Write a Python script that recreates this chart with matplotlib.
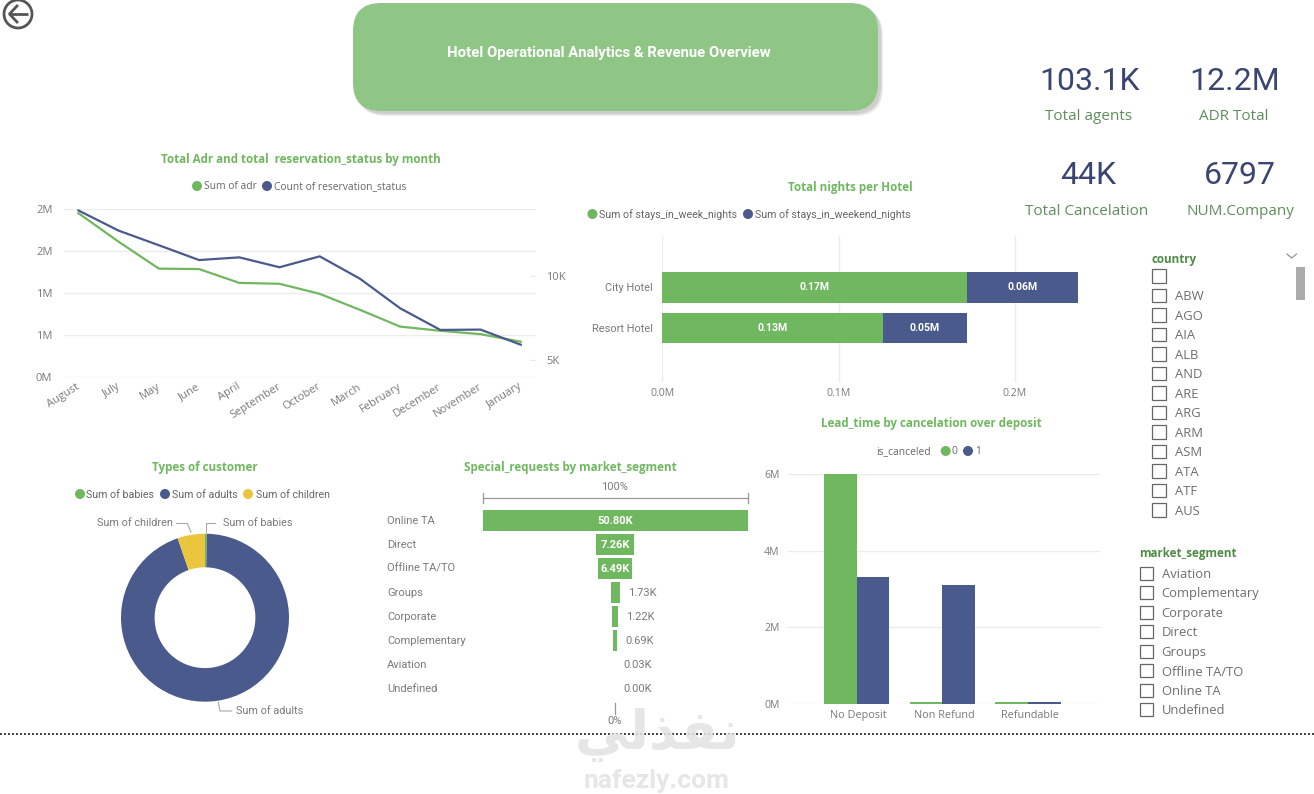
import numpy as np
import matplotlib
matplotlib.use('Agg')
import matplotlib.pyplot as plt
from matplotlib.patches import FancyBboxPatch, Rectangle, Circle

# =============================================================================
# Data
# =============================================================================
MONTHS = ['August', 'July', 'May', 'June', 'April', 'September', 'October',
          'March', 'February', 'December', 'November', 'January']
SUM_ADR = [1.95, 1.61, 1.29, 1.285, 1.12, 1.11, 0.99, 0.80, 0.60, 0.55, 0.51, 0.42]
COUNT_STATUS = [13.9, 12.7, 11.83, 10.95, 11.11, 10.52, 11.17, 9.84, 8.08, 6.79, 6.81, 5.91]

HOTELS = ['City Hotel', 'Resort Hotel']
WEEK_NIGHTS = [0.173, 0.1252]
WEEKEND_NIGHTS = [0.0628, 0.0474]
WEEK_LABELS = ['0.17M', '0.13M']
WEEKEND_LABELS = ['0.06M', '0.05M']

CUSTOMER_NAMES = ['Sum of babies', 'Sum of adults', 'Sum of children']
CUSTOMER_VALUES = [0.9, 221.6, 12.4]

SEGMENTS = ['Online TA', 'Direct', 'Offline TA/TO', 'Groups', 'Corporate',
            'Complementary', 'Aviation', 'Undefined']
SEGMENT_REQUESTS = [50.80, 7.26, 6.49, 1.73, 1.22, 0.69, 0.03, 0.00]

DEPOSITS = ['No Deposit', 'Non Refund', 'Refundable']
LEAD_NOT_CANCELED = [6.0, 0.04, 0.04]
LEAD_CANCELED = [3.32, 3.11, 0.04]

KPI_VALUES = ['103.1K', '12.2M', '44K', '6797']
KPI_NAMES = ['Total agents', 'ADR Total', 'Total Cancelation', 'NUM.Company']

COUNTRIES = ['', 'ABW', 'AGO', 'AIA', 'ALB', 'AND', 'ARE', 'ARG', 'ARM', 'ASM', 'ATA', 'ATF', 'AUS']
MARKET_SLICER = ['Aviation', 'Complementary', 'Corporate', 'Direct', 'Groups',
                 'Offline TA/TO', 'Online TA', 'Undefined']

# =============================================================================
# Style
# =============================================================================
W, H = 1314, 794
GREEN = '#70B85F'
BLUE = '#4A5A8C'
YELLOW = '#EBC53D'
GRID = '#ECECEC'
GREY = '#7A7A7A'
SEGOE = 'Open Sans'
DIN = 'Roboto'

fig = plt.figure(figsize=(W / 100, H / 100), dpi=100, facecolor='white')


def px_axes(left, top, right, bottom):
    """Axes placed with image pixel coordinates."""
    ax = fig.add_axes([left / W, 1 - bottom / H, (right - left) / W, (bottom - top) / H])
    ax.patch.set_alpha(0)
    for s in ax.spines.values():
        s.set_visible(False)
    return ax


# overlay for all the dashboard furniture: titles, legends, cards, slicers
ov = fig.add_axes([0, 0, 1, 1], zorder=5)
ov.set_xlim(0, W)
ov.set_ylim(H, 0)
ov.axis('off')
ov.patch.set_alpha(0)


def title(text, cx, cy, size=8.4):
    ov.text(cx, cy, text, color=GREEN, fontsize=size, fontweight='bold', family=SEGOE,
            ha='center', va='center')


def legend_item(cx, tx, y, label, color, family=SEGOE, size=7.4):
    ov.add_patch(Circle((cx, y), 5, color=color, lw=0))
    ov.text(tx, y + 0.5, label, color='#666666', fontsize=size, family=family, ha='left', va='center')


# =============================================================================
# Header
# =============================================================================
# soft shadow, a few faint layers under the button
for off, shade in [(5, '#EDEDED'), (4, '#E0E0E0'), (3, '#CFCFCF')]:
    ov.add_patch(FancyBboxPatch((353 + off, 3 + off), 525, 108,
                                boxstyle='round,pad=0,rounding_size=28', fc=shade, ec='none'))
ov.add_patch(FancyBboxPatch((353, 3), 525, 108, boxstyle='round,pad=0,rounding_size=28',
                            fc='#90C685', ec='none'))
ov.text(608.5, 53.5, 'Hotel Operational Analytics & Revenue Overview', color='white',
        fontsize=10.7, fontweight='bold', family=DIN, ha='center', va='center')

# back button
ov.add_patch(Circle((18, 14), 14, fc='white', ec='#555555', lw=2))
ov.plot([28, 10], [14, 14], color='#555555', lw=2, solid_capstyle='butt')
ov.plot([17, 9.5, 17], [6, 14, 22], color='#555555', lw=2)

# =============================================================================
# Line chart
# =============================================================================
title('Total Adr and total  reservation_status by month', 300.5, 159)
legend_item(197, 203.5, 186, 'Sum of adr', GREEN)
legend_item(267, 273.5, 186, 'Count of reservation_status', BLUE)

ax = px_axes(63.6, 209, 536, 377)
x = np.arange(len(MONTHS))
ax.plot(x, SUM_ADR, color=GREEN, lw=1.6)
ax.set_xlim(-0.37, 11.38)
ax.set_ylim(0, 2)
ax.set_yticks([0, 0.5, 1, 1.5, 2])
ax.set_yticklabels(['0M', '1M', '1M', '2M', '2M'])
ax.grid(axis='y', color=GRID, lw=1)
ax.set_axisbelow(True)
ax.tick_params(axis='y', length=0, pad=8, labelsize=8, labelcolor=GREY)
ax.set_xticks(x - 0.06)
ax.set_xticklabels(MONTHS, rotation=32, ha='right', va='top', rotation_mode='anchor',
                   fontsize=8, color=GREY, family=SEGOE)
ax.tick_params(axis='x', length=0, pad=3)
for t in ax.get_yticklabels():
    t.set_family(SEGOE)

ax2 = ax.twinx()
ax2.patch.set_alpha(0)
for s in ax2.spines.values():
    s.set_visible(False)
ax2.plot(x, COUNT_STATUS, color=BLUE, lw=1.6)
ax2.set_ylim(3.988, 13.988)
ax2.set_yticks([5, 10])
ax2.set_yticklabels(['5K', '10K'], family=SEGOE)
ax2.tick_params(axis='y', direction='in', length=4.5, color=GRID, pad=7.5, labelsize=8, labelcolor=GREY)

# =============================================================================
# Stacked bars
# =============================================================================
title('Total nights per Hotel', 850.7, 187)
legend_item(592.4, 599, 214, 'Sum of stays_in_week_nights', GREEN, DIN, 7.7)
legend_item(748, 755, 214, 'Sum of stays_in_weekend_nights', BLUE, DIN, 7.7)

ax = px_axes(662.4, 236, 1100, 381.7)
y = np.arange(len(HOTELS))
ax.barh(y, WEEK_NIGHTS, height=0.753, color=GREEN, zorder=3)
ax.barh(y, WEEKEND_NIGHTS, left=WEEK_NIGHTS, height=0.753, color=BLUE, zorder=3)
ax.set_xlim(0, 0.2483)
ax.set_ylim(2.33, -1.267)
ax.set_yticks(y)
ax.set_yticklabels(HOTELS, family=DIN, fontsize=7.9)
ax.set_xticks([0, 0.1, 0.2])
ax.set_xticklabels(['0.0M', '0.1M', '0.2M'], family=SEGOE, fontsize=7.6)
ax.tick_params(length=0, labelcolor=GREY)
ax.tick_params(axis='y', pad=7)
ax.tick_params(axis='x', pad=4.5)
ax.grid(axis='x', color=GRID, lw=1, zorder=0)
for i in y:
    ax.text(WEEK_NIGHTS[i] / 2, i, WEEK_LABELS[i], color='white', fontsize=7.6,
            fontweight='bold', family=DIN, ha='center', va='center', zorder=4)
    ax.text(WEEK_NIGHTS[i] + WEEKEND_NIGHTS[i] / 2, i, WEEKEND_LABELS[i], color='white',
            fontsize=7.6, fontweight='bold', family=DIN, ha='center', va='center', zorder=4)

# =============================================================================
# Donut
# =============================================================================
title('Types of customer', 204.5, 467)
legend_item(80, 86.5, 494, 'Sum of babies', GREEN, DIN, 7.7)
legend_item(165, 172, 494, 'Sum of adults', BLUE, DIN, 7.7)
legend_item(248, 255.5, 494, 'Sum of children', YELLOW, DIN, 7.7)

ax = px_axes(121, 533.7, 289, 701.7)
ax.pie(CUSTOMER_VALUES, colors=[GREEN, BLUE, YELLOW], startangle=90, counterclock=False,
       radius=1, wedgeprops={'width': 0.4, 'linewidth': 0})
ax.set_xlim(-1, 1)
ax.set_ylim(-1, 1)

LEADER = '#A8A8A8'
ov.plot([205.7, 205.7, 215], [531.7, 522.7, 522.7], color=LEADER, lw=0.8)
ov.plot([176.7, 187.3, 191], [523.5, 523.5, 532], color=LEADER, lw=0.8)
ov.plot([218.3, 220, 231.7], [702.3, 711, 711], color=LEADER, lw=0.8)
ov.text(223.3, 522.7, CUSTOMER_NAMES[0], color=GREY, fontsize=7.8, family=DIN, va='center')
ov.text(172.7, 523.5, CUSTOMER_NAMES[2], color=GREY, fontsize=7.8, family=DIN, va='center', ha='right')
ov.text(236, 711, CUSTOMER_NAMES[1], color=GREY, fontsize=7.8, family=DIN, va='center')

# =============================================================================
# Funnel
# =============================================================================
title('Special_requests by market_segment', 570, 467)
ov.plot([482.7, 747.7], [498, 498], color='#999999', lw=0.9)
ov.plot([482.7, 482.7], [493, 503], color='#999999', lw=0.9)
ov.plot([747.7, 747.7], [493, 503], color='#999999', lw=0.9)
ov.plot([615, 615], [703, 714], color='#999999', lw=0.9)
ov.text(615, 487, '100%', color=GREY, fontsize=8, family=DIN, ha='center', va='center')
ov.text(615, 721.5, '0%', color=GREY, fontsize=8, family=DIN, ha='center', va='center', zorder=7)

top_value = SEGMENT_REQUESTS[0]
ax = px_axes(482.7, 508.5, 747.7, 700.5)
y = np.arange(len(SEGMENTS))
vals = np.array(SEGMENT_REQUESTS)
ax.barh(y, vals, left=-vals / 2, height=0.875, color=GREEN)
ax.set_xlim(-top_value / 2, top_value / 2)
ax.set_ylim(7.5, -0.5)
ax.set_xticks([])
ax.set_yticks([])
for i, name in enumerate(SEGMENTS):
    ax.annotate(name, xy=(0, i), xycoords=('axes fraction', 'data'), xytext=(-95.4 * 0.72, 0),
                textcoords='offset points', color=GREY, fontsize=8, family=DIN,
                ha='left', va='center')
    label = f'{SEGMENT_REQUESTS[i]:.2f}K'
    if SEGMENT_REQUESTS[i] > 5:
        ax.text(0, i, label, color='white', fontsize=8, fontweight='bold', family=DIN,
                ha='center', va='center')
    else:
        ax.annotate(label, xy=(SEGMENT_REQUESTS[i] / 2, i), xytext=(8 * 0.72, 0),
                    textcoords='offset points', color=GREY, fontsize=8, family=DIN,
                    ha='left', va='center')

# =============================================================================
# Clustered columns
# =============================================================================
title('Lead_time by cancelation over deposit', 931, 424)
ov.text(876.7, 451.5, 'is_canceled', color='#666666', fontsize=7.4, family=SEGOE, va='center')
legend_item(945.7, 952, 451, '0', GREEN)
legend_item(968, 975, 451, '1', BLUE)

ax = px_axes(788, 474, 1100, 704)
x = np.arange(len(DEPOSITS))
ax.bar(x - 0.19, LEAD_NOT_CANCELED, width=0.38, color=GREEN, zorder=3)
ax.bar(x + 0.19, LEAD_CANCELED, width=0.38, color=BLUE, zorder=3)
ax.set_xlim(-0.80, 2.84)
ax.set_ylim(0, 6)
ax.set_yticks([0, 2, 4, 6])
ax.set_yticklabels(['0M', '2M', '4M', '6M'], family=SEGOE, fontsize=7.6)
ax.set_xticks(x + 0.02)
ax.set_xticklabels(DEPOSITS, family=SEGOE, fontsize=7.8)
ax.tick_params(length=0, labelcolor=GREY)
ax.tick_params(axis='y', pad=6)
ax.tick_params(axis='x', pad=4.5)
ax.grid(axis='y', color=GRID, lw=1, zorder=0)

# =============================================================================
# KPI cards
# =============================================================================
KPI_VALUE_POS = [(1090, 81.5), (1235, 81.5), (1087.7, 176), (1240, 176)]
KPI_NAME_POS = [(1089, 117), (1234, 117), (1087, 211.5), (1240, 211.5)]
for val, (px, py) in zip(KPI_VALUES, KPI_VALUE_POS):
    ov.text(px, py, val, color='#3A4570', fontsize=23, family=DIN, ha='center', va='center')
for name, (px, py) in zip(KPI_NAMES, KPI_NAME_POS):
    ov.text(px, py, name, color='#5E8F5A', fontsize=11, family=SEGOE, ha='center', va='center')

# =============================================================================
# Slicers
# =============================================================================


def slicer(name, names, box_x, name_x, title_x, title_y, first_y, step):
    ov.text(title_x, title_y, name, color='#4F8A46', fontsize=8.4, fontweight='bold',
            family=SEGOE, va='center')
    for i, item in enumerate(names):
        cy = first_y + i * step
        ov.add_patch(Rectangle((box_x, cy - 6.7), 13.4, 13.4, fc='white', ec='#666666', lw=0.9))
        ov.text(name_x, cy + 1.2, item, color='#6E6E6E', fontsize=9.4, family=SEGOE, va='center')


slicer('country', COUNTRIES, 1152.3, 1174.7, 1152, 259.5, 276, 19.5)
slicer('market_segment', MARKET_SLICER, 1139.5, 1161.7, 1139.5, 554, 573.3, 19.5)
ov.plot([1287, 1291.7, 1296.5], [254, 258, 254], color='#888888', lw=0.8)
ov.add_patch(Rectangle((1296, 267.3), 9, 32.4, fc='#ABABAB', ec='none'))

# =============================================================================
# Bottom dotted line and watermark
# =============================================================================
ov.plot([0, W], [734, 734], color='#444444', lw=1.44, linestyle=(0, (1, 1)))
ov.text(657, 735, 'ﻲﻟﺬﻔﻧ', color='#E2E2E2', alpha=0.85, fontsize=39, fontweight='bold',
        family='DejaVu Sans', ha='center', va='center', zorder=6)
ov.text(657, 781, 'nafezly.com', color='#E6E6E6', fontsize=19, fontweight='bold',
        family=DIN, ha='center', va='center', zorder=6)

fig.savefig('out.png', dpi=100, facecolor='white')
